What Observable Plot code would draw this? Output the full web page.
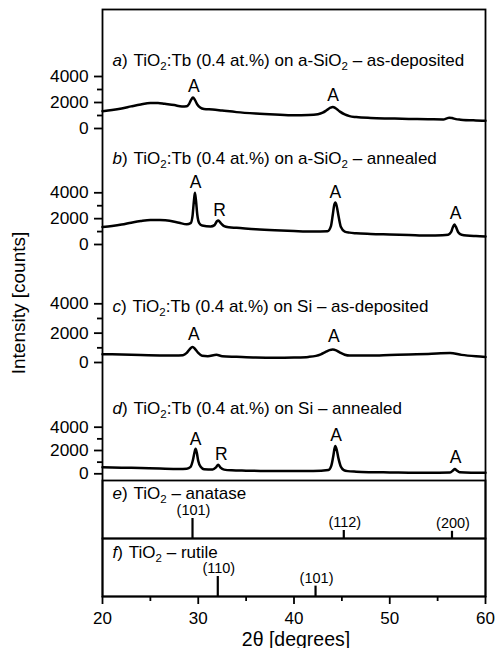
<!DOCTYPE html>
<html><head><meta charset="utf-8">
<script src="https://cdn.jsdelivr.net/npm/d3@7"></script>
<script src="https://cdn.jsdelivr.net/npm/@observablehq/plot@0.6"></script>
<style>
body{margin:0;background:#fff;}
#chart{position:relative;width:496px;height:648px;font-family:Arial,"Liberation Sans",Helvetica,sans-serif;color:#000;}
#chart svg{position:absolute;left:0;top:0;overflow:visible;}
</style></head><body><div id="chart"></div>
<script>
// ---------- data ----------
const xDomain = [20, 60];
const xTicks = [20, 30, 40, 50, 60];
const xMinorTicks = [25, 35, 45, 55];
const yTicks = [0, 2000, 4000];
const yMinorTicks = [1000, 3000];
const xLabel = "2θ [degrees]";
const yLabel = "Intensity [counts]";

const panelLetters = ["a", "b", "c", "d", "e", "f"];
const panelTitles = [
  "TiO2:Tb (0.4 at.%) on a-SiO2 – as-deposited",
  "TiO2:Tb (0.4 at.%) on a-SiO2 – annealed",
  "TiO2:Tb (0.4 at.%) on Si – as-deposited",
  "TiO2:Tb (0.4 at.%) on Si – annealed",
  "TiO2 – anatase",
  "TiO2 – rutile"
];

// a) on a-SiO2, as-deposited
const thetaA  = [20,21,22,23,24,25,25.8,26.5,27.5,28.3,28.8,29.05,29.25,29.45,29.65,29.9,30.2,30.6,31.5,32.5,34,36,38,40,41.5,42.5,43,43.4,43.8,44.05,44.35,44.8,45.3,45.8,46.5,48,50,52,54,55.6,55.95,56.2,56.5,56.9,57.4,59,60];
const countsA = [1330,1420,1540,1700,1850,1960,1970,1900,1800,1700,1720,1900,2200,2380,2200,1850,1620,1500,1460,1380,1260,1150,1070,1010,1030,1100,1220,1400,1600,1660,1560,1300,1080,950,880,810,770,740,720,700,780,830,800,720,680,620,600];
// b) on a-SiO2, annealed
const thetaB  = [20,21,22,23,24,25,26,27,28,28.8,29.2,29.4,29.55,29.65,29.75,29.9,30.1,30.4,31.3,31.7,31.95,32.1,32.35,32.7,33.2,34,36,38,40,42,43.5,43.85,44.05,44.2,44.32,44.45,44.65,44.9,45.3,45.8,46.5,48,50,52,54,55.5,56.1,56.4,56.6,56.75,56.9,57.15,57.5,59,60];
const countsB = [1350,1430,1540,1690,1820,1900,1890,1840,1680,1560,1650,2200,3400,4000,3500,2300,1650,1470,1400,1500,1800,1850,1650,1420,1330,1290,1180,1100,1040,1000,1030,1400,2300,3050,3250,3000,2200,1350,1000,920,870,820,780,740,700,720,760,950,1350,1550,1380,950,760,650,620];
// c) on Si, as-deposited
const thetaC  = [20,22,24,26,27.5,28.4,28.8,29.1,29.4,29.7,30,30.4,31,31.9,32.5,34,36,38,40,41.5,42.3,42.8,43.3,43.7,44.05,44.4,44.8,45.3,45.8,48,50,52,54,56.3,57.5,59,60];
const countsC = [570,540,510,480,470,500,650,900,1060,900,650,460,430,520,430,390,340,320,340,380,450,560,720,840,880,830,680,530,470,470,510,550,580,640,520,420,370];
// d) on Si, annealed
const thetaD  = [20,22,24,26,28,28.8,29.2,29.45,29.6,29.72,29.85,30,30.25,30.6,31.5,31.85,32.08,32.3,32.7,33.5,35,38,40,42,43.6,43.9,44.1,44.3,44.45,44.65,44.9,45.2,45.6,46.5,48,50,52,54,56.3,56.6,56.8,57,57.3,58.5,60];
const countsD = [570,530,490,450,420,440,600,1200,1800,2150,1800,1100,600,400,370,550,780,560,360,300,270,230,230,240,330,700,1500,2380,2100,1300,600,320,230,180,140,120,100,90,120,280,420,290,130,90,85];

// peak labels (A = anatase, R = rutile)
const peakTextA = ["A", "A"];
const peakThetaA = [29.54, 44.09];
const peakLabelCountsA = [2790, 2150];
const peakTextB = ["A", "R", "A", "A"];
const peakThetaB = [29.71, 32.22, 44.33, 56.87];
const peakLabelCountsB = [4360, 2230, 3590, 1975];
const peakTextC = ["A", "A"];
const peakThetaC = [29.54, 44.16];
const peakLabelCountsC = [1540, 1380];
const peakTextD = ["A", "R", "A", "A"];
const peakThetaD = [29.71, 32.4, 44.4, 56.87];
const peakLabelCountsD = [2485, 1200, 2855, 940];

// reference patterns
const anataseHKL = ["(101)", "(112)", "(200)"];
const anataseTheta = [29.4, 45.2, 56.5];
const anataseIntensity = [100, 40, 36];
const rutileHKL = ["(110)", "(101)"];
const rutileTheta = [32.04, 42.25];
const rutileIntensity = [100, 52];

// ---------- layout ----------
const W = 496, H = 648, mL = 102, mR = 11;
const frameTop = 9, sepDE = 480, sepEF = 538, frameBottom = 596;
const font = 'Arial, "Liberation Sans", Helvetica, sans-serif';
const style = {background: "transparent", overflow: "visible", fontFamily: font, color: "#000"};
const lw = 1.8;

const zip = (xs, ys) => xs.map((x, i) => ({x, y: ys[i]}));
const zip3 = (ts, xs, ys) => ts.map((t, i) => ({t, x: xs[i], y: ys[i]}));

function titleMark(i, baseline, top) {
  return Plot.text([panelLetters[i] + ") " + panelTitles[i]], {
    frameAnchor: "top-left", dx: 10, dy: baseline - top, lineAnchor: "bottom",
    textAnchor: "start", fontSize: 17, fill: "#000"
  });
}

function spectrumPanel(i, th, ct, pt, px, py, zeroPx, fullPx, titleBaseline) {
  return Plot.plot({
    width: W, height: H, marginLeft: mL, marginRight: mR,
    marginTop: frameTop, marginBottom: H - sepDE, style,
    x: {domain: xDomain, axis: null},
    y: {domain: [0, 4000], range: [zeroPx, fullPx], axis: null},
    marks: [
      Plot.line(zip(th, ct), {x: "x", y: "y", stroke: "#000", strokeWidth: 2.5, curve: "monotone-x"}),
      Plot.axisY(yTicks, {anchor: "left", tickSize: 8, tickPadding: 6, tickFormat: "d", fontSize: 17.3, label: null, strokeWidth: lw, fill: "#000"}),
      Plot.axisY(yMinorTicks, {anchor: "left", tickSize: 5, tickFormat: () => "", label: null, strokeWidth: lw}),
      Plot.text(zip3(pt, px, py), {x: "x", y: "y", text: "t", lineAnchor: "bottom", fontSize: 17.5, fill: "#000"}),
      titleMark(i, titleBaseline, frameTop)
    ]
  });
}

function refPanel(i, hkl, th, inten, top, bottom, titleBaseline) {
  return Plot.plot({
    width: W, height: H, marginLeft: mL, marginRight: mR,
    marginTop: top, marginBottom: H - bottom, style,
    x: {domain: xDomain, axis: null},
    y: {domain: [0, 100], range: [bottom, bottom - 20], axis: null},
    marks: [
      Plot.frame({stroke: "#000", strokeWidth: lw}),
      Plot.ruleX(zip(th, inten), {x: "x", y1: 0, y2: "y", stroke: "#000", strokeWidth: 2.2}),
      Plot.text(zip3(hkl, th, inten), {x: "x", y: "y", text: "t", dx: 1, dy: -3.5, lineAnchor: "bottom", fontSize: 14.5, fill: "#000"}),
      titleMark(i, titleBaseline, top)
    ]
  });
}

const outer = Plot.plot({
  width: W, height: H, marginLeft: mL, marginRight: mR,
  marginTop: frameTop, marginBottom: H - frameBottom, style,
  x: {domain: xDomain, axis: null},
  marks: [
    Plot.frame({stroke: "#000", strokeWidth: lw}),
    Plot.axisX(xTicks, {anchor: "bottom", tickSize: 8, tickPadding: 7.5, tickFormat: "d", fontSize: 17, label: null, strokeWidth: lw, fill: "#000"}),
    Plot.axisX(xMinorTicks, {anchor: "bottom", tickSize: 5, tickFormat: () => "", label: null, strokeWidth: lw}),
    Plot.text([xLabel], {frameAnchor: "bottom", textAnchor: "middle", dx: 2, dy: 49, lineAnchor: "bottom", fontSize: 19.5, fill: "#000"}),
    Plot.text([yLabel], {frameAnchor: "left", textAnchor: "middle", dx: -78, rotate: -90, lineAnchor: "bottom", fontSize: 19, fill: "#000"})
  ]
});

const plots = [
  outer,
  spectrumPanel(0, thetaA, countsA, peakTextA, peakThetaA, peakLabelCountsA, 128, 76, 65),
  spectrumPanel(1, thetaB, countsB, peakTextB, peakThetaB, peakLabelCountsB, 244, 192.3, 163.3),
  spectrumPanel(2, thetaC, countsC, peakTextC, peakThetaC, peakLabelCountsC, 362, 303.3, 311),
  spectrumPanel(3, thetaD, countsD, peakTextD, peakThetaD, peakLabelCountsD, 473.3, 426.7, 413.3),
  refPanel(4, anataseHKL, anataseTheta, anataseIntensity, sepDE, sepEF, 498.7),
  refPanel(5, rutileHKL, rutileTheta, rutileIntensity, sepEF, frameBottom, 557.3)
];

// italic panel letter + subscript "2" in TiO2 / SiO2
function richTitles(svg) {
  d3.select(svg).selectAll("text").filter(function () {
    return /^[a-f]\) /.test(this.textContent);
  }).each(function () {
    const s = this.textContent;
    const el = d3.select(this);
    el.text(null);
    el.append("tspan").attr("font-style", "italic").text(s[0]);
    el.append("tspan").text(s.slice(1, 3));
    const parts = s.slice(3).split(/(O2)/);
    let shifted = false, first = true;
    for (const p of parts) {
      if (!p) continue;
      if (p === "O2") {
        const t = el.append("tspan").text("O");
        if (shifted) { t.attr("dy", -4); shifted = false; }
        if (first) t.attr("dx", 1.5);
        el.append("tspan").attr("font-size", 11.5).attr("dy", 4).text("2");
        shifted = true;
      } else {
        const t = el.append("tspan").text(p);
        if (shifted) { t.attr("dy", -4); shifted = false; }
        if (first) t.attr("dx", 1.5);
      }
      first = false;
    }
  });
}

const root = document.getElementById("chart");
for (const p of plots) { richTitles(p); root.appendChild(p); }
</script></body></html>
